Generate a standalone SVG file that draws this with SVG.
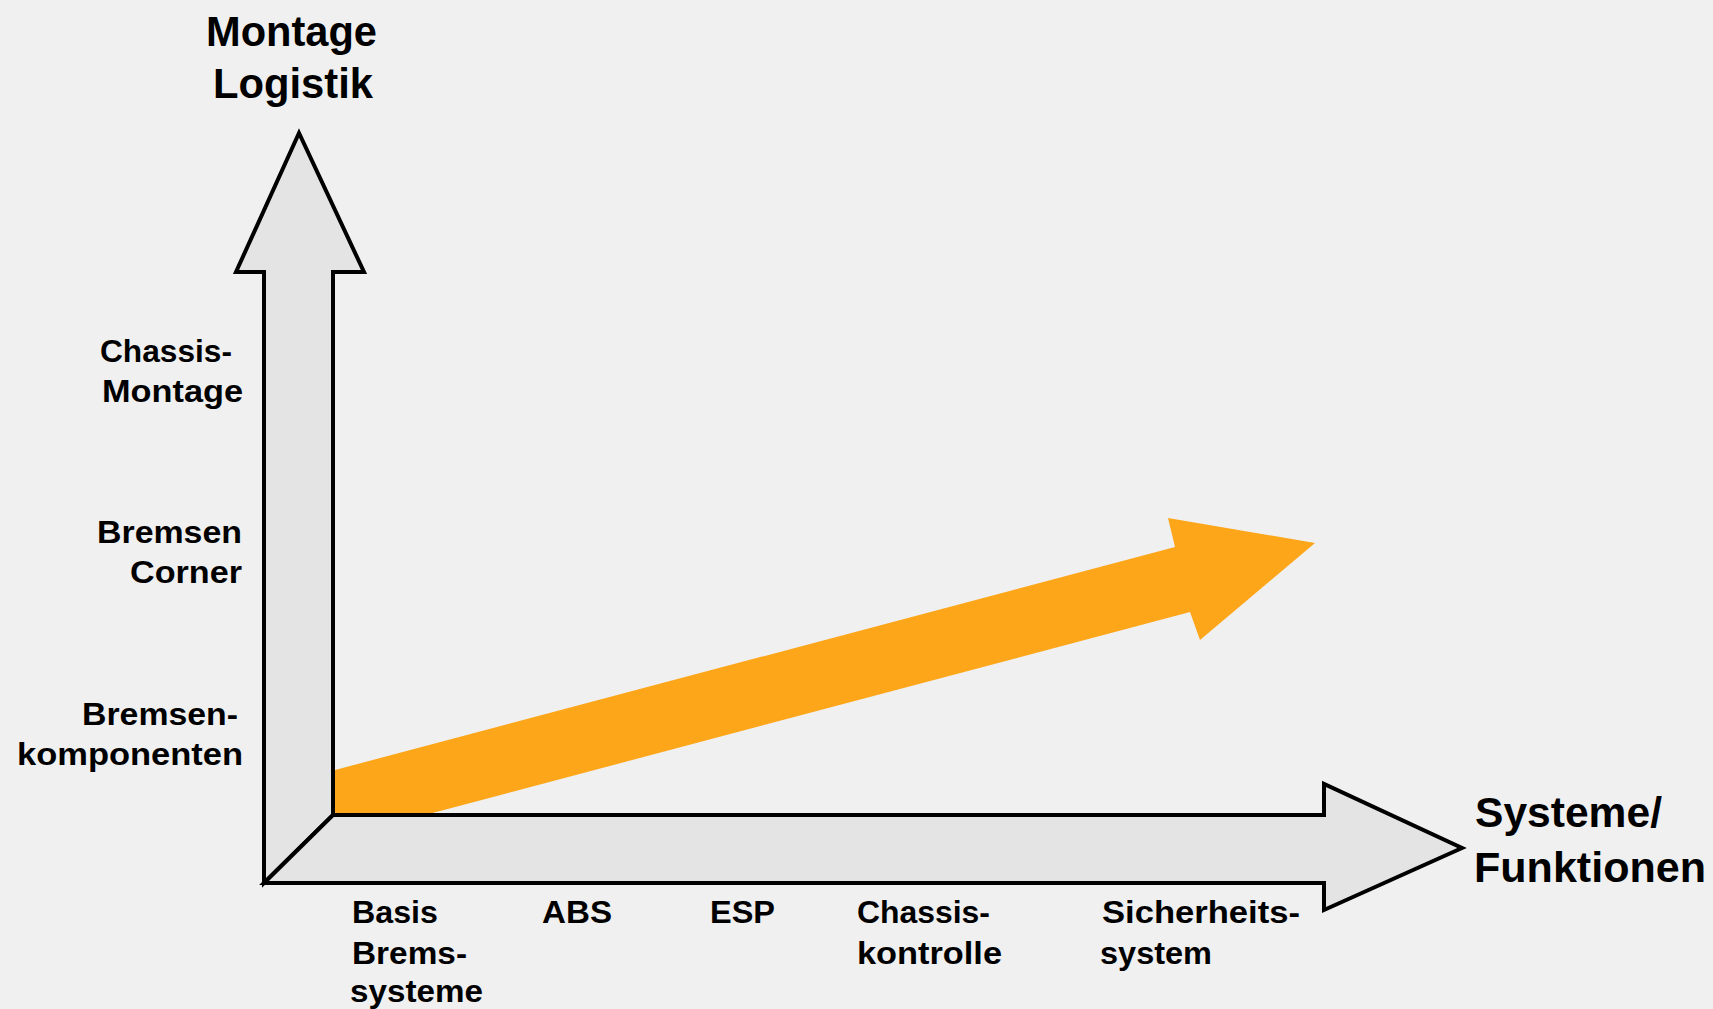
<svg xmlns="http://www.w3.org/2000/svg" width="1713" height="1009" viewBox="0 0 1713 1009">
<style>
.bg{fill:#f0f0f0}
.ax{fill:#e4e4e4;stroke:#000;stroke-width:4;stroke-linejoin:miter}
.or{fill:#fda619}
.lbl{font-family:"Liberation Sans",Arial,sans-serif;font-weight:bold;font-size:31px;fill:#000}
.big{font-family:"Liberation Sans",Arial,sans-serif;font-weight:bold;font-size:42px;fill:#000}
</style>
<rect class="bg" x="0" y="0" width="1713" height="1009"/>
<g id="trend">
<polygon class="or" points="335,770 1175,547 1168,518 1315,543 1200,640 1190,612 425,815 335,815"/>
</g>
<g id="connectors">
<polygon id="y-axis" class="ax" points="264,883 264,272 236,272 299,133 364,272 333,272 333,815"/>
<polygon id="x-axis" class="ax" points="264,883 333,815 1324,815 1324,784 1462,848 1324,910 1324,883"/>
</g>
<g id="title-y">
<text class="big" x="206" y="46" textLength="171" lengthAdjust="spacingAndGlyphs">Montage</text>
<text class="big" x="213" y="98" textLength="160" lengthAdjust="spacingAndGlyphs">Logistik</text>
</g>
<g id="title-x">
<text class="big" x="1475" y="827" textLength="187" lengthAdjust="spacingAndGlyphs">Systeme/</text>
<text class="big" x="1474" y="882" textLength="232" lengthAdjust="spacingAndGlyphs">Funktionen</text>
</g>
<g id="y-chassis">
<text class="lbl" x="100" y="362" textLength="132" lengthAdjust="spacingAndGlyphs">Chassis-</text>
<text class="lbl" x="102" y="402" textLength="141" lengthAdjust="spacingAndGlyphs">Montage</text>
</g>
<g id="y-corner">
<text class="lbl" x="97" y="543" textLength="145" lengthAdjust="spacingAndGlyphs">Bremsen</text>
<text class="lbl" x="130" y="583" textLength="112" lengthAdjust="spacingAndGlyphs">Corner</text>
</g>
<g id="y-komponenten">
<text class="lbl" x="82" y="725" textLength="156" lengthAdjust="spacingAndGlyphs">Bremsen-</text>
<text class="lbl" x="17" y="765" textLength="226" lengthAdjust="spacingAndGlyphs">komponenten</text>
</g>
<g id="x-basis">
<text class="lbl" x="352" y="923" textLength="86" lengthAdjust="spacingAndGlyphs">Basis</text>
<text class="lbl" x="352" y="964" textLength="115" lengthAdjust="spacingAndGlyphs">Brems-</text>
<text class="lbl" x="350" y="1002" textLength="133" lengthAdjust="spacingAndGlyphs">systeme</text>
</g>
<g id="x-abs">
<text class="lbl" x="542" y="923" textLength="70" lengthAdjust="spacingAndGlyphs">ABS</text>
</g>
<g id="x-esp">
<text class="lbl" x="710" y="923" textLength="65" lengthAdjust="spacingAndGlyphs">ESP</text>
</g>
<g id="x-chassis">
<text class="lbl" x="857" y="923" textLength="133" lengthAdjust="spacingAndGlyphs">Chassis-</text>
<text class="lbl" x="857" y="964" textLength="145" lengthAdjust="spacingAndGlyphs">kontrolle</text>
</g>
<g id="x-sicherheit">
<text class="lbl" x="1102" y="923" textLength="198" lengthAdjust="spacingAndGlyphs">Sicherheits-</text>
<text class="lbl" x="1100" y="964" textLength="112" lengthAdjust="spacingAndGlyphs">system</text>
</g>
</svg>
